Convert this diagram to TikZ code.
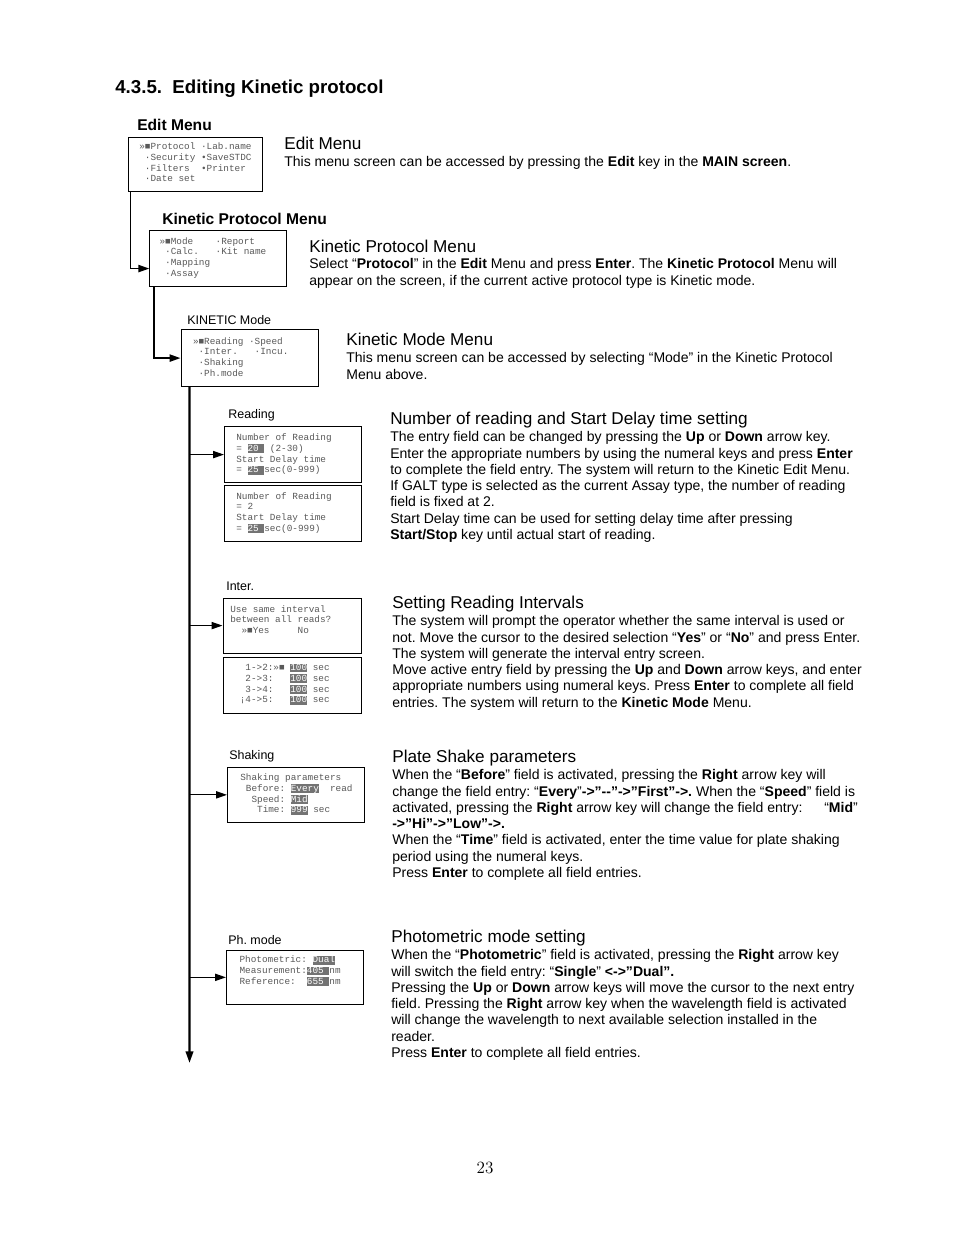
\documentclass[tikz,border=0pt]{standalone}
\usepackage{fontspec}
\newfontfamily\arial{Liberation Sans}
\newfontfamily\cour{Liberation Mono}
\usetikzlibrary{arrows.meta}
\frenchspacing

\definecolor{scrtext}{gray}{0.35}
\definecolor{fldfill}{gray}{0.45}
% highlighted entry field on the LCD screens
\newcommand{\fld}[1]{{\setlength{\fboxsep}{0pt}\colorbox{fldfill}{\vrule height4.6pt depth1.1pt width0pt\textcolor{white}{#1}}}}

\tikzset{
  screen/.style={draw, line width=0.75pt, anchor=north west, inner sep=0pt,
    minimum width=137*0.6415pt, minimum height=56*0.6415pt},
  scrtxt/.style={anchor=north west, inner sep=0pt, align=left, text=scrtext,
    font=\cour\fontsize{6}{6.9}\selectfont},
  lbl/.style={anchor=base west, inner sep=0pt, font=\arial\fontsize{8}{9.6}\selectfont},
  boldlbl/.style={anchor=base west, inner sep=0pt, font=\arial\bfseries\fontsize{10}{12}\selectfont},
  head/.style={anchor=base west, inner sep=0pt, font=\arial\fontsize{11}{13}\selectfont},
  body/.style={anchor=north west, inner sep=0pt, align=left, font=\arial\fontsize{9}{10.4}\selectfont},
  feed/.style={line width=1.1pt, -{Triangle[length=7pt,width=4.6pt]}},
  branch/.style={line width=0.8pt, -{Triangle[length=7pt,width=4.6pt]}},
  trunk/.style={line width=1.5pt, -{Triangle[length=7.5pt,width=4.8pt]}},
}

\begin{document}
\begin{tikzpicture}[x=0.6415pt,y=-0.6415pt]
  \useasboundingbox[fill=white] (0,0) rectangle (954,1235);

  \node[anchor=base west, inner sep=0pt, font=\arial\bfseries\fontsize{12}{14}\selectfont]
    (title) at (115,93) {4.3.5.\ \ Editing Kinetic protocol};

  % ---- menu screens
  \node[boldlbl] (editlbl) at (137,130) {Edit Menu};
  \node[screen, minimum width=134*0.6415pt, minimum height=54*0.6415pt] (edit) at (128,137) {};
  \node[scrtxt] (edittxt) at (139,142.5) {»■Protocol~·Lab.name\\~·Security~•SaveSTDC\\~·Filters~~•Printer\\~·Date~set};

  \node[boldlbl] (kpmlbl) at (162,224) {Kinetic Protocol Menu};
  \node[screen] (kpm) at (149.3,230) {};
  \node[scrtxt] (kpmtxt) at (159.3,237) {»■Mode~~~~·Report\\~·Calc.~~~·Kit~name\\~·Mapping\\~·Assay};

  \node[lbl] (kmodelbl) at (187,324) {KINETIC Mode};
  \node[screen, minimum height=57*0.6415pt] (kmode) at (180.5,329) {};
  \node[scrtxt] (kmodetxt) at (192.7,337) {»■Reading~·Speed\\~·Inter.~~~·Incu.\\~·Shaking\\~·Ph.mode};

  \node[lbl] (rdlbl) at (228,418) {Reading};
  \node[screen] (rd1) at (224,426) {};
  \node[scrtxt] (rd1txt) at (236,433.5) {Number~of~Reading\\=~\fld{20~}~(2-30)\\Start~Delay~time\\=~\fld{25~}sec(0-999)};
  \node[screen] (rd2) at (224,484.5) {};
  \node[scrtxt] (rd2txt) at (236,492) {Number~of~Reading\\=~2\\Start~Delay~time\\=~\fld{25~}sec(0-999)};

  \node[lbl] (inlbl) at (226,590) {Inter.};
  \node[screen, minimum width=138*0.6415pt, minimum height=55*0.6415pt] (in1) at (222.5,597.5) {};
  \node[scrtxt] (in1txt) at (230,605) {Use~same~interval\\between~all~reads?\\~~»■Yes~~~~~No};
  \node[screen, minimum width=138*0.6415pt] (in2) at (222.5,656.5) {};
  \node[scrtxt] (in2txt) at (239.5,663.2) {~1->2:»■~\fld{100}~sec\\~2->3:~~~\fld{100}~sec\\~3->4:~~~\fld{100}~sec\\¡4->5:~~~\fld{100}~sec};

  \node[lbl] (shklbl) at (229,759) {Shaking};
  \node[screen, minimum height=55.5*0.6415pt] (shk) at (227,766.5) {};
  \node[scrtxt] (shktxt) at (240,773.5) {Shaking~parameters\\~Before:~\fld{Every}~~read\\~~Speed:~\fld{Mid}\\~~~Time:~\fld{999}~sec};

  \node[lbl] (phmlbl) at (228,944) {Ph. mode};
  \node[screen, minimum height=54.5*0.6415pt] (phm) at (226,949.5) {};
  \node[scrtxt] (phmtxt) at (239.3,955.5) {Photometric:~\fld{Dual}\\Measurement:\fld{405~}nm\\Reference:~~\fld{655~}nm};

  % ---- connectors
  \draw[feed] ([xshift=1.6pt]edit.south west) |- ([yshift=-6.4pt]kpm.west);
  \draw[feed] ([xshift=3pt]kpm.south west) |- (kmode.west);

  \coordinate (trunktop) at ([xshift=5.8pt]kmode.south west);
  \coordinate (trunkend) at (189.5,1063);
  \draw[trunk] (trunktop) -- (trunkend);
  \foreach \s in {rd1,in1,shk,phm}
    \draw[branch] (trunktop |- \s.west) -- (\s.west);

  % ---- descriptions
  \node[head] (edithd) at (284,149) {Edit Menu};
  \node[body] (editbd) at (284,156.5) {This menu screen can be accessed by pressing the \textbf{Edit} key in the \textbf{MAIN screen}.};

  \node[head] (kpmhd) at (309,252) {Kinetic Protocol Menu};
  \node[body] (kpmbd) at (309,258.5) {Select “\textbf{Protocol}” in the \textbf{Edit} Menu and press \textbf{Enter}. The \textbf{Kinetic Protocol} Menu will\\appear on the screen, if the current active protocol type is Kinetic mode.};

  \node[head] (kmodehd) at (346,345) {Kinetic Mode Menu};
  \node[body] (kmodebd) at (346,352.5) {This menu screen can be accessed by selecting “Mode” in the Kinetic Protocol\\Menu above.};

  \node[head] (rdhd) at (390,424) {Number of reading and Start Delay time setting};
  \node[body] (rdbd) at (390,431.5) {The entry field can be changed by pressing the \textbf{Up} or \textbf{Down} arrow key.\\
    Enter the appropriate numbers by using the numeral keys and press \textbf{Enter}\\
    to complete the field entry. The system will return to the Kinetic Edit Menu.\\
    If GALT type is selected as the current Assay type, the number of reading\\
    field is fixed at 2.\\
    Start Delay time can be used for setting delay time after pressing\\
    \textbf{Start/Stop} key until actual start of reading.};

  \node[head] (inhd) at (392,608) {Setting Reading Intervals};
  \node[body] (inbd) at (392,615.5) {The system will prompt the operator whether the same interval is used or\\
    not. Move the cursor to the desired selection “\textbf{Yes}” or “\textbf{No}” and press Enter.\\
    The system will generate the interval entry screen.\\
    Move active entry field by pressing the \textbf{Up} and \textbf{Down} arrow keys, and enter\\
    appropriate numbers using numeral keys. Press \textbf{Enter} to complete all field\\
    entries. The system will return to the \textbf{Kinetic Mode} Menu.};

  \node[head] (shkhd) at (392,762) {Plate Shake parameters};
  \node[body] (shkbd) at (392,769.5) {When the “\textbf{Before}” field is activated, pressing the \textbf{Right} arrow key will\\
    change the field entry: “\textbf{Every}”\textbf{->”-{}-”->”First”->.} When the “\textbf{Speed}” field is\\
    activated, pressing the \textbf{Right} arrow key will change the field entry:\hspace{14pt}“\textbf{Mid}”\\
    \textbf{->”Hi”->”Low”->.}\\
    When the “\textbf{Time}” field is activated, enter the time value for plate shaking\\
    period using the numeral keys.\\
    Press \textbf{Enter} to complete all field entries.};

  \node[head] (phmhd) at (391,942) {Photometric mode setting};
  \node[body] (phmbd) at (391,949.5) {When the “\textbf{Photometric}” field is activated, pressing the \textbf{Right} arrow key\\
    will switch the field entry: “\textbf{Single}” \textbf{<->”Dual”.}\\
    Pressing the \textbf{Up} or \textbf{Down} arrow keys will move the cursor to the next entry\\
    field. Pressing the \textbf{Right} arrow key when the wavelength field is activated\\
    will change the wavelength to next available selection installed in the\\
    reader.\\
    Press \textbf{Enter} to complete all field entries.};

  \node[anchor=base, inner sep=0pt, font=\fontsize{11}{13}\selectfont] (pgno) at (485,1173) {23};
\end{tikzpicture}
\end{document}
